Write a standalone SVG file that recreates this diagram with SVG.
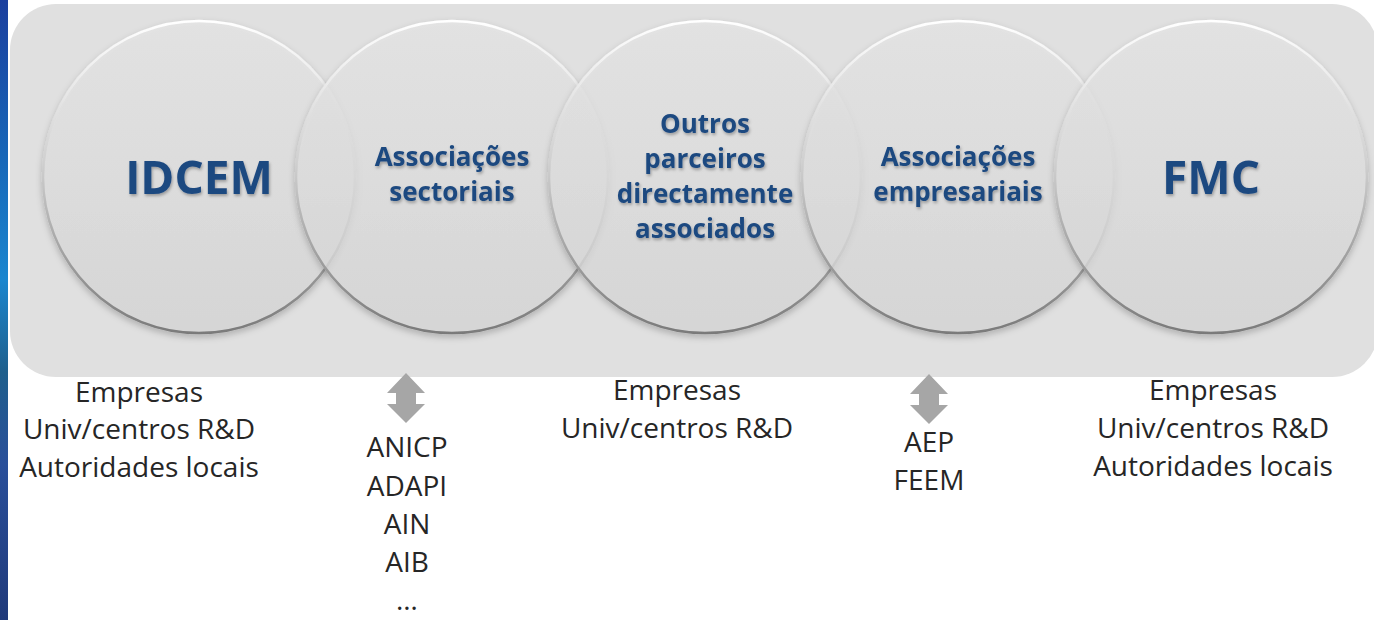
<svg xmlns="http://www.w3.org/2000/svg" width="1374" height="620" viewBox="0 0 1374 620">
<defs>
<linearGradient id="strip" x1="0" y1="0" x2="0" y2="1">
<stop offset="0" stop-color="#1b3f9e"/>
<stop offset="0.25" stop-color="#1766b8"/>
<stop offset="0.45" stop-color="#1a86cf"/>
<stop offset="0.6" stop-color="#1f5f8c"/>
<stop offset="0.75" stop-color="#2a4f9a"/>
<stop offset="1" stop-color="#203a7a"/>
</linearGradient>
<linearGradient id="cfill" x1="0" y1="0" x2="0" y2="1">
<stop offset="0" stop-color="#e8e8e8"/>
<stop offset="1" stop-color="#d9d9d9"/>
</linearGradient>
<linearGradient id="cstroke" x1="0" y1="0" x2="0" y2="1">
<stop offset="0" stop-color="#ffffff"/>
<stop offset="0.45" stop-color="#d0d0d0"/>
<stop offset="1" stop-color="#7a7a7a"/>
</linearGradient>
<filter id="cshadow" x="-10%" y="-10%" width="120%" height="125%">
<feDropShadow dx="0" dy="3" stdDeviation="3" flood-color="#000" flood-opacity="0.25"/>
</filter>
<filter id="tshadow" x="-10%" y="-20%" width="120%" height="150%">
<feDropShadow dx="1" dy="2" stdDeviation="1.5" flood-color="#000" flood-opacity="0.3"/>
</filter>
<path id="dblarrow" d="M0,0 L19,20 L10,20 L10,31 L19,31 L0,50 L-19,31 L-10,31 L-10,20 L-19,20 Z"/>
</defs>
<style>
.circ{fill:url(#cfill);fill-opacity:0.75;stroke:url(#cstroke);stroke-width:2.5;filter:url(#cshadow)}
.lbl{font-family:"Open Sans","Liberation Sans",sans-serif;font-weight:bold;fill:#1f4a80;text-anchor:middle;filter:url(#tshadow)}
.big{font-size:46px}
.mid{font-size:26px}
.sub{font-family:"Open Sans","Liberation Sans",sans-serif;font-size:28px;fill:#262626;text-anchor:middle}
.arr{fill:#a6a6a6}
</style>
<rect x="0" y="0" width="1374" height="620" fill="#ffffff"/>
<rect x="0" y="0" width="8" height="620" fill="url(#strip)"/>
<rect x="10" y="4" width="1368" height="373" rx="46" ry="46" fill="#e0e0e0"/>

<g id="node-idcem">
<circle class="circ" cx="199" cy="177" r="156"/>
<text class="lbl big" x="199" y="194">IDCEM</text>
</g>
<g id="node-assoc-sectoriais">
<circle class="circ" cx="452" cy="177" r="156"/>
<text class="lbl mid" x="452" y="166">Associações</text>
<text class="lbl mid" x="452" y="201">sectoriais</text>
</g>
<g id="node-outros">
<circle class="circ" cx="705" cy="177" r="156"/>
<text class="lbl mid" x="705" y="133">Outros</text>
<text class="lbl mid" x="705" y="168">parceiros</text>
<text class="lbl mid" x="705" y="203">directamente</text>
<text class="lbl mid" x="705" y="238">associados</text>
</g>
<g id="node-assoc-empresariais">
<circle class="circ" cx="958" cy="177" r="156"/>
<text class="lbl mid" x="958" y="166">Associações</text>
<text class="lbl mid" x="958" y="201">empresariais</text>
</g>
<g id="node-fmc">
<circle class="circ" cx="1211" cy="177" r="156"/>
<text class="lbl big" x="1211" y="194">FMC</text>
</g>

<g id="connectors">
<use href="#dblarrow" class="arr" x="406" y="373"/>
<use href="#dblarrow" class="arr" x="929" y="374"/>
</g>

<g id="list-idcem">
<text class="sub" x="139" y="402">Empresas</text>
<text class="sub" x="139" y="439">Univ/centros R&amp;D</text>
<text class="sub" x="139" y="477">Autoridades locais</text>
</g>
<g id="list-sectoriais">
<text class="sub" x="407" y="457">ANICP</text>
<text class="sub" x="407" y="496">ADAPI</text>
<text class="sub" x="407" y="534">AIN</text>
<text class="sub" x="407" y="572">AIB</text>
<text class="sub" x="407" y="610">…</text>
</g>
<g id="list-outros">
<text class="sub" x="677" y="400">Empresas</text>
<text class="sub" x="677" y="438">Univ/centros R&amp;D</text>
</g>
<g id="list-empresariais">
<text class="sub" x="929" y="452">AEP</text>
<text class="sub" x="929" y="490">FEEM</text>
</g>
<g id="list-fmc">
<text class="sub" x="1213" y="400">Empresas</text>
<text class="sub" x="1213" y="438">Univ/centros R&amp;D</text>
<text class="sub" x="1213" y="476">Autoridades locais</text>
</g>
</svg>
